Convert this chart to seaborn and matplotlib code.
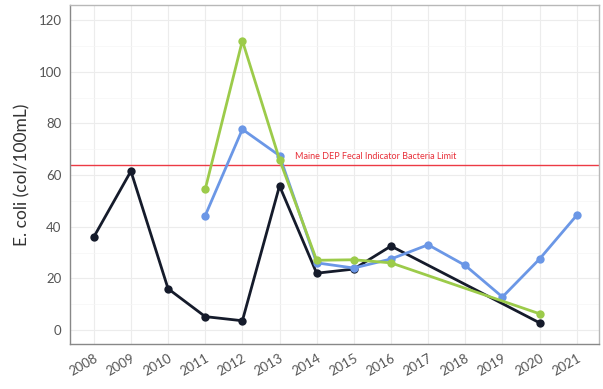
import numpy as np
import pandas as pd
import matplotlib
matplotlib.use("Agg")
import matplotlib.pyplot as plt
import seaborn as sns

years_black = [2008, 2009, 2010, 2011, 2012, 2013, 2014, 2015, 2016, 2020]
vals_black = [36, 61.5, 16, 5.2, 3.6, 55.8, 22, 23.6, 32.5, 2.8]
years_blue = [2011, 2012, 2013, 2014, 2015, 2016, 2017, 2018, 2019, 2020, 2021]
vals_blue = [44.3, 77.7, 67.5, 26, 24, 27.5, 33, 25, 12.8, 27.5, 44.4]
years_green = [2011, 2012, 2013, 2014, 2015, 2016, 2020]
vals_green = [54.5, 112, 66, 27, 27.2, 26, 6.3]
limit_value = 64
limit_label = "Maine DEP Fecal Indicator Bacteria Limit"
x_ticks = list(range(2008, 2022))
y_ticks = [0, 20, 40, 60, 80, 100, 120]

df = pd.concat([
    pd.DataFrame({"year": years_black, "ecoli": vals_black, "site": "A"}),
    pd.DataFrame({"year": years_blue, "ecoli": vals_blue, "site": "B"}),
    pd.DataFrame({"year": years_green, "ecoli": vals_green, "site": "C"}),
])
palette = {"A": "#151b2b", "B": "#6b97e6", "C": "#9ccb4a"}

sns.set_style("white")
plt.rcParams['font.family'] = ['Lato', 'DejaVu Sans']

fig = plt.figure(figsize=(6.03, 3.89), dpi=100)
ax = fig.add_axes([70/603, 1-344/389, 529/603, 339/389])

sns.lineplot(data=df, x="year", y="ecoli", hue="site", palette=palette,
             marker="o", markersize=6, markeredgewidth=0, linewidth=2,
             legend=False, ax=ax, zorder=3)

ax.axhline(limit_value, color="#ec3a44", linewidth=1, zorder=2)
ax.text(2013.42, limit_value + 1.6, limit_label, color="#e8303a", fontsize=6.5, va="bottom", ha="left")

ax.set_xlim(2007.36, 2021.6)
ax.set_ylim(-5.4, 125.8)
ax.set_xticks(x_ticks)
ax.set_xticklabels([str(y) for y in x_ticks], rotation=30, ha="right", rotation_mode="anchor",
                   fontsize=9.5, color="#555555")
ax.set_yticks(y_ticks)
ax.set_yticklabels([str(v) for v in y_ticks], fontsize=9.5, color="#555555")
ax.set_yticks(np.arange(10, 125, 20), minor=True)
ax.grid(which="major", color="#ececec", linewidth=0.8)
ax.grid(which="minor", axis="y", color="#f5f5f5", linewidth=0.5)
ax.set_axisbelow(True)
ax.tick_params(axis="both", which="major", length=3, color="#888888", width=0.8, pad=3)
ax.tick_params(axis="y", which="minor", length=0)
for s in ax.spines.values():
    s.set_color("#b8b8b8")
    s.set_linewidth(1)
ax.spines["left"].set_color("#888888")
ax.spines["bottom"].set_color("#888888")
ax.set_xlabel("")
ax.set_ylabel("E. coli (col/100mL)", fontsize=12.5, color="#333333", labelpad=6)

fig.savefig("out.png", dpi=100)
